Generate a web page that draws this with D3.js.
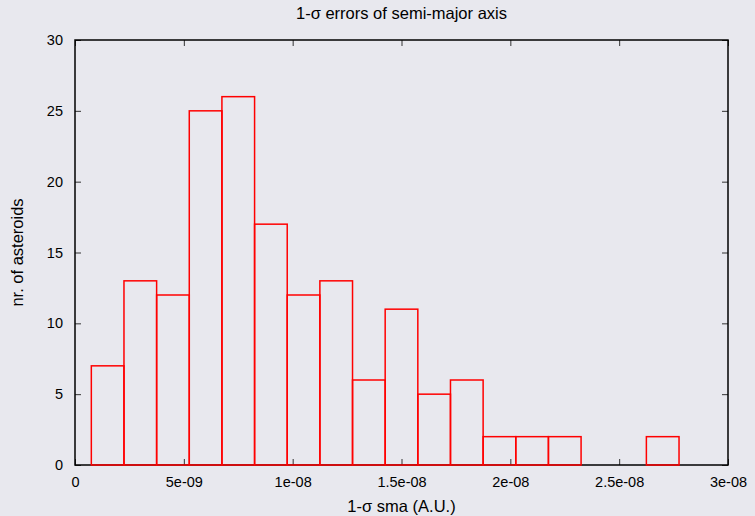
<!DOCTYPE html>
<html>
<head>
<meta charset="utf-8">
<script src="https://cdn.jsdelivr.net/npm/d3@7"></script>
<style>
  body { margin: 0; background: #e8e8ee; }
  text { font-family: "Liberation Sans", Arial, sans-serif; }
</style>
</head>
<body>
<div class="canvas"></div>
<script>
// bin edges (A.U.), first bin starts at 0.75e-9, width 1.5e-9
const binStarts = [0.75e-9, 2.25e-9, 3.75e-9, 5.25e-9, 6.75e-9, 8.25e-9, 9.75e-9, 11.25e-9, 12.75e-9,
    14.25e-9, 15.75e-9, 17.25e-9, 18.75e-9, 20.25e-9, 21.75e-9, 23.25e-9, 24.75e-9, 26.25e-9]
const binWidth = 1.5e-9
const counts = [7, 13, 12, 25, 26, 17, 12, 13, 6, 11, 5, 6, 2, 2, 2, 0, 0, 2]

const xTicks = [0, 5e-9, 1e-8, 1.5e-8, 2e-8, 2.5e-8, 3e-8]
const xTickLabels = ['0', '5e-09', '1e-08', '1.5e-08', '2e-08', '2.5e-08', '3e-08']
const yTicks = [0, 5, 10, 15, 20, 25, 30]

const data = binStarts.map((s, i) => ({ x0: s, x1: s + binWidth, n: counts[i] }))

const width = 755
const height = 516
const margins = { top: 40, right: 27, bottom: 51, left: 75 }
const gWidth = width - margins.left - margins.right
const gHeight = height - margins.top - margins.bottom

const svg = d3.select('.canvas').append('svg').attr('width', width).attr('height', height)

svg.append('rect').attr('width', width).attr('height', height).attr('fill', '#e8e8ee')

const graph = svg.append('g').attr('transform', `translate(${margins.left}, ${margins.top})`)

const x = d3.scaleLinear().domain([0, 3e-8]).range([0, gWidth])
const y = d3.scaleLinear().domain([0, 30]).range([gHeight, 0])

// axes: labels outside, ticks drawn inward
const xAxis = d3.axisBottom(x).tickValues(xTicks).tickFormat((d, i) => xTickLabels[i]).tickSize(-6).tickPadding(12)
const yAxis = d3.axisLeft(y).tickValues(yTicks).tickSize(-6).tickPadding(12)
const xTop = d3.axisTop(x).tickValues(xTicks).tickFormat('').tickSize(-6)
const yRight = d3.axisRight(y).tickValues(yTicks).tickFormat('').tickSize(-6)

const styleAxis = g => {
    g.select('.domain').remove()
    g.selectAll('line').attr('stroke', '#333')
    g.selectAll('text').attr('font-size', 14.5).attr('fill', '#000')
}

graph.append('g').attr('transform', `translate(0, ${gHeight})`).call(xAxis).call(styleAxis)
graph.append('g').call(yAxis).call(styleAxis)
graph.append('g').call(xTop).call(styleAxis)
graph.append('g').attr('transform', `translate(${gWidth}, 0)`).call(yRight).call(styleAxis)

// frame
graph.append('rect')
    .attr('x', 0).attr('y', 0)
    .attr('width', gWidth).attr('height', gHeight)
    .attr('fill', 'none').attr('stroke', '#000').attr('stroke-width', 1.5)

// histogram bars (outline only)
graph.selectAll('rect.bar').data(data.filter(d => d.n > 0))
    .enter()
    .append('rect')
    .attr('class', 'bar')
    .attr('x', d => x(d.x0))
    .attr('y', d => y(d.n))
    .attr('width', d => x(d.x1) - x(d.x0))
    .attr('height', d => gHeight - y(d.n))
    .attr('fill', 'none')
    .attr('stroke', 'red')
    .attr('stroke-width', 1.5)

// title and labels
svg.append('text')
    .attr('x', margins.left + gWidth / 2).attr('y', 19)
    .attr('text-anchor', 'middle').attr('font-size', 16.5)
    .text('1-σ errors of semi-major axis')

svg.append('text')
    .attr('x', margins.left + gWidth / 2).attr('y', 512)
    .attr('text-anchor', 'middle').attr('font-size', 16.5)
    .text('1-σ sma (A.U.)')

svg.append('text')
    .attr('transform', `translate(23, ${margins.top + gHeight / 2}) rotate(-90)`)
    .attr('text-anchor', 'middle').attr('font-size', 16.5)
    .text('nr. of asteroids')
</script>
</body>
</html>
